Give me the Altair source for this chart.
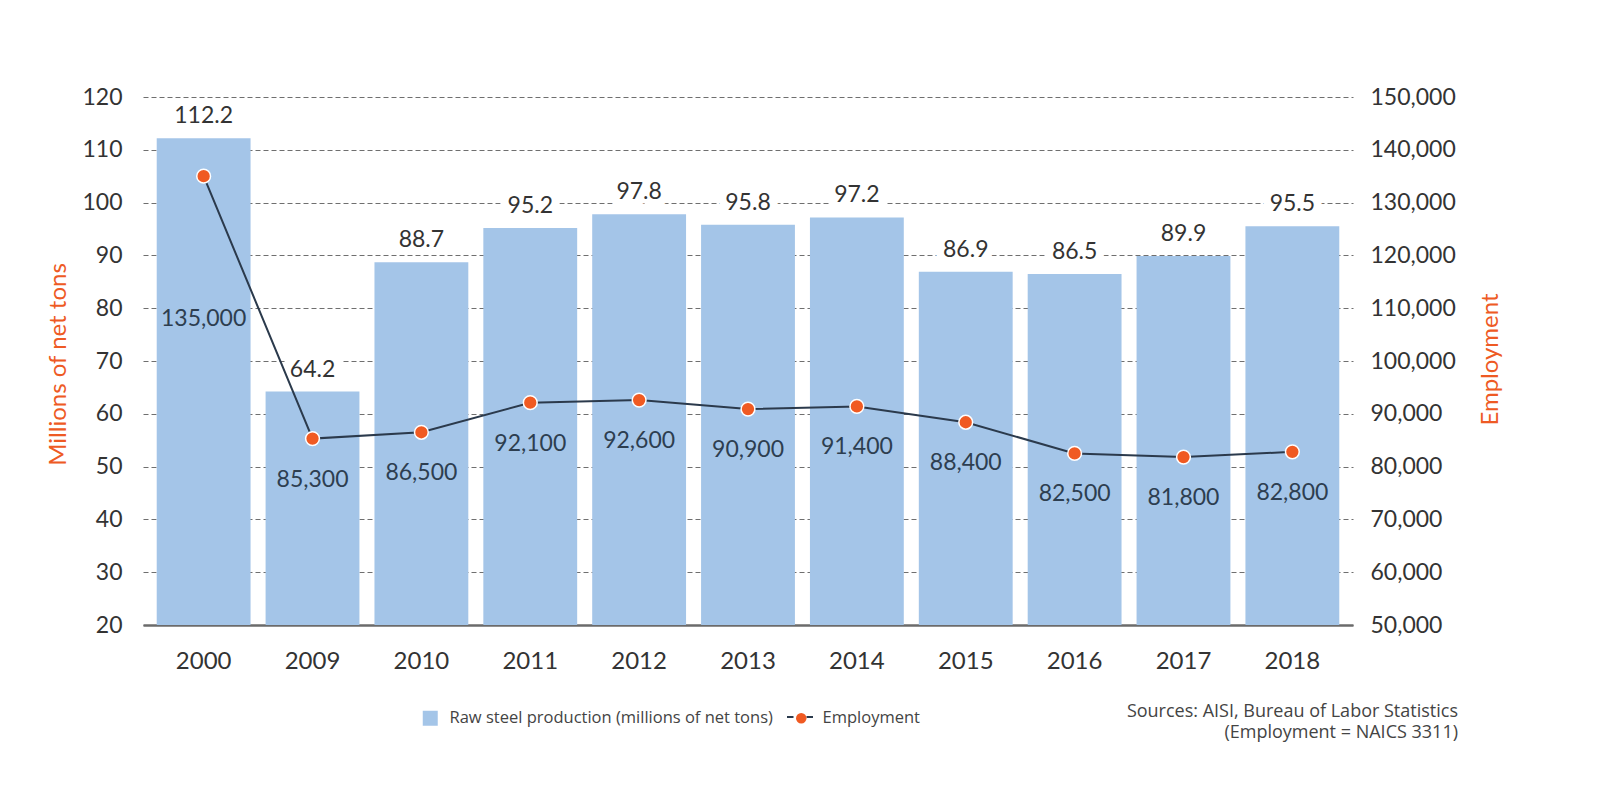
import altair as alt
import pandas as pd

# ---- data ----
years = ["2000", "2009", "2010", "2011", "2012", "2013", "2014", "2015", "2016", "2017", "2018"]
steel = [112.2, 64.2, 88.7, 95.2, 97.8, 95.8, 97.2, 86.9, 86.5, 89.9, 95.5]
employment = [135000, 85300, 86500, 92100, 92600, 90900, 91400, 88400, 82500, 81800, 82800]

left_ticks = [20, 30, 40, 50, 60, 70, 80, 90, 100, 110, 120]
right_ticks = [50000, 60000, 70000, 80000, 90000, 100000, 110000, 120000, 130000, 140000, 150000]

bar_name = "Raw steel production (millions of net tons)"
emp_name = "Employment"
line_name = "Employment (line)"
sources = ["Sources: AISI, Bureau of Labor Statistics", "(Employment = NAICS 3311)"]

df = pd.DataFrame({
    "year": years,
    "steel": steel,
    "emp": employment,
    "s_bar": bar_name,
    "s_line": line_name,
    "s_pt": emp_name,
})

FONT = "Lato"
LEG_FONT = "Open Sans"
BAR_COLOR = "#a4c5e8"
ORANGE = "#f05a22"
TITLE_ORANGE = "#ee5a24"
NAVY = "#2b3a4c"
TEXT = "#333333"

x_enc = alt.X(
    "year:N", sort=years,
    scale=alt.Scale(paddingInner=0.138, paddingOuter=0.126),
    axis=alt.Axis(title=None, labelAngle=0, labelFont=FONT, labelFontSize=24,
                  labelColor=TEXT, labelPadding=24, ticks=False, tickSize=0,
                  domainColor="#6b6b6b", domainWidth=2.5, grid=False),
)

left_axis = alt.Axis(
    title="Millions of net tons", orient="left", values=left_ticks,
    grid=True, gridDash=[5, 3], gridColor="#6f6f6f", gridWidth=1,
    domain=False, ticks=False, tickSize=0, labelPadding=21,
    labelFont=FONT, labelFontSize=23, labelColor=TEXT,
    titleFont=FONT, titleFontSize=24, titleFontWeight="normal", titleColor=TITLE_ORANGE,
    titleAngle=270, titleX=-85, titleY=267, titleAlign="center", titleBaseline="middle",
)
right_axis = alt.Axis(
    title="Employment", orient="right", values=right_ticks, format=",.0f",
    grid=False, domain=False, ticks=False, tickSize=0, labelPadding=17,
    labelFont=FONT, labelFontSize=23, labelColor=TEXT,
    titleFont=FONT, titleFontSize=24, titleFontWeight="normal", titleColor=TITLE_ORANGE,
    titleAngle=270, titleX=137, titleY=262, titleAlign="center", titleBaseline="middle",
)

y_left = alt.Y("steel:Q", scale=alt.Scale(domain=[20, 120], zero=False, nice=False), axis=left_axis)
y_right = alt.Y("emp:Q", scale=alt.Scale(domain=[50000, 150000], zero=False, nice=False), axis=right_axis)

base = alt.Chart(df)

bars = base.mark_bar().encode(
    x=x_enc,
    y=y_left,
    y2=alt.datum(20),
    color=alt.Color(
        "s_bar:N",
        scale=alt.Scale(domain=[bar_name], range=[BAR_COLOR]),
        legend=alt.Legend(orient="none", legendX=279, legendY=613, title=None,
                          symbolType="square", symbolSize=225, symbolStrokeWidth=0,
                          labelFont=LEG_FONT, labelFontSize=16.5, labelColor="#444444",
                          labelOffset=11, labelLimit=0),
    ),
)

bar_halo = base.mark_text(baseline="middle", dy=-22, font=FONT, fontSize=23,
                          stroke="white", strokeWidth=16, strokeJoin="round",
                          color="white").encode(
    x=x_enc, y=y_left, text=alt.Text("steel:Q", format=".1f"))

bar_text = base.mark_text(baseline="middle", dy=-22, font=FONT, fontSize=23,
                          color=TEXT).encode(
    x=x_enc, y=y_left, text=alt.Text("steel:Q", format=".1f"))

left = alt.layer(bars, bar_halo, bar_text)

line = base.mark_line(strokeWidth=2).encode(
    x=x_enc, y=y_right,
    stroke=alt.Stroke(
        "s_line:N",
        scale=alt.Scale(domain=[line_name], range=[NAVY]),
        legend=alt.Legend(orient="none", legendX=643, legendY=606, title=None,
                          symbolType="M-1,0H-0.5M0.5,0H1", symbolSize=676,
                          symbolStrokeWidth=2, symbolFillColor="transparent",
                          labelExpr="''", labelFont=LEG_FONT, labelFontSize=17),
    ),
)

points = base.mark_circle(size=190, stroke="white", strokeWidth=1.5, opacity=1).encode(
    x=x_enc, y=y_right,
    fill=alt.Fill(
        "s_pt:N",
        scale=alt.Scale(domain=[emp_name], range=[ORANGE]),
        legend=alt.Legend(orient="none", legendX=650, legendY=613, title=None,
                          symbolType="circle", symbolSize=110, symbolStrokeWidth=0,
                          labelFont=LEG_FONT, labelFontSize=16.5, labelColor="#444444",
                          labelOffset=13, labelLimit=0),
    ),
)

emp_text = base.mark_text(baseline="middle", dy=41, font=FONT, fontSize=23,
                          color="#2d3e50").encode(
    x=x_enc, y=y_right, text=alt.Text("emp:Q", format=",.0f")
).transform_filter(alt.datum.year != "2000")

emp_text_first = base.mark_text(baseline="middle", dy=143, font=FONT, fontSize=23,
                                color="#2d3e50").encode(
    x=x_enc, y=y_right, text=alt.Text("emp:Q", format=",.0f")
).transform_filter(alt.datum.year == "2000")

right = alt.layer(line, points, emp_text, emp_text_first)

chart = alt.layer(left, right).resolve_scale(y="independent").properties(
    width=1210, height=528,
    padding={"left": 135, "top": 89, "right": 230, "bottom": 150},
    autosize=alt.AutoSizeParams(type="none"),
    title=alt.TitleParams(text=sources, orient="bottom", anchor="end", align="right",
                          frame="group", offset=-24, dx=105, font=LEG_FONT, fontSize=18,
                          fontWeight="normal", color="#444444", lineHeight=21,
                          baseline="top"),
).configure_view(stroke=None)

chart.save("out.html", embed_options={"renderer": "svg", "actions": False})
